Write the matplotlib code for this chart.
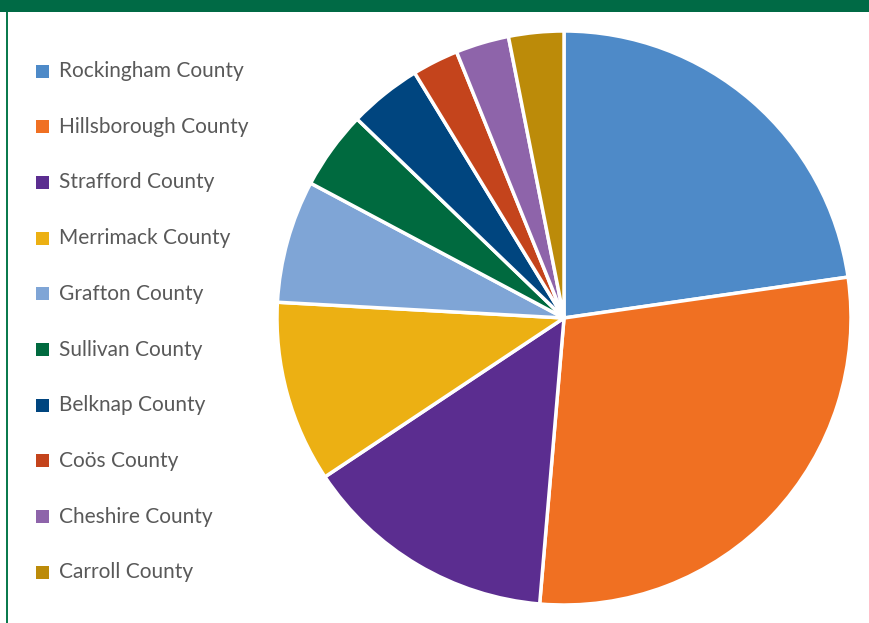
import matplotlib.pyplot as plt
from matplotlib.patches import Rectangle

counties = ['Rockingham County', 'Hillsborough County', 'Strafford County',
            'Merrimack County', 'Grafton County', 'Sullivan County',
            'Belknap County', 'Coös County', 'Cheshire County', 'Carroll County']
shares = [22.7, 28.6, 14.3, 10.2, 6.9, 4.4, 4.1, 2.6, 3.0, 3.1]
colors = ['#4E8AC8', '#F07022', '#5B2D90', '#ECB013', '#7FA5D6',
          '#006A3F', '#00457F', '#C4441C', '#8E64AA', '#BC8B09']

W, H = 869, 623
fig = plt.figure(figsize=(W / 100, H / 100), dpi=100)
fig.patch.set_facecolor('white')

# green header band and left rule
fig.patches.append(Rectangle((0, 1 - 12 / H), 1, 12 / H, transform=fig.transFigure,
                             facecolor='#006A45', edgecolor='none', zorder=5))
fig.patches.append(Rectangle((5.5 / W, 0), 2 / W, 1 - 12 / H, transform=fig.transFigure,
                             facecolor='#0B7A4E', edgecolor='none', zorder=5))

# pie
cx, cy, r = 564, 318, 287
ax = fig.add_axes([(cx - r) / W, 1 - (cy + r) / H, 2 * r / W, 2 * r / H])
ax.pie(shares, colors=colors, startangle=90, counterclock=False, radius=1,
       wedgeprops=dict(edgecolor='white', linewidth=2.5))
ax.set_xlim(-1.0, 1.0)
ax.set_ylim(-1.0, 1.0)
ax.set_aspect('equal')
ax.axis('off')

# legend
y0, step = 71, 55.7
for i, (name, c) in enumerate(zip(counties, colors)):
    y = y0 + i * step
    fig.patches.append(Rectangle((36 / W, 1 - (y + 6.5) / H), 13 / W, 13 / H,
                                 transform=fig.transFigure, facecolor=c, edgecolor='none'))
    fig.text(59 / W, 1 - y / H, name, ha='left', va='center', fontsize=15,
             family='Lato', color='#595959')

fig.savefig('out.png', dpi=100)
